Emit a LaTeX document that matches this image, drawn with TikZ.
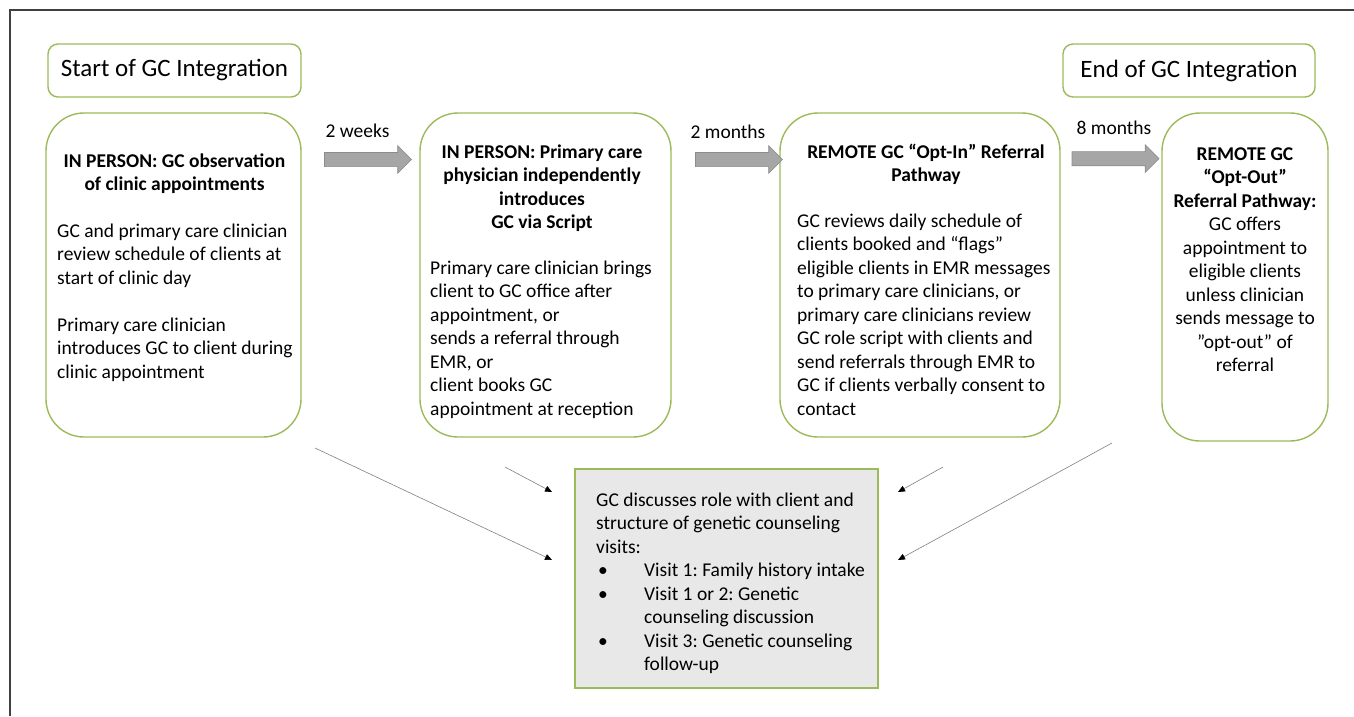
\documentclass[tikz,border=0pt]{standalone}
\usepackage{fontspec}
\setmainfont{Carlito}
\usetikzlibrary{shapes.arrows,arrows.meta,positioning}

\definecolor{cardgreen}{RGB}{155,187,89}
\definecolor{notegray}{RGB}{232,232,232}
\definecolor{shaftgray}{RGB}{166,166,166}
\definecolor{shaftedge}{RGB}{140,140,140}
\definecolor{framegray}{RGB}{64,64,64}
\newcommand\bodyfont{\fontsize{19.5}{23.5}\selectfont\frenchspacing}

\begin{document}
\begin{tikzpicture}[x=1pt,y=-1pt]

    \tikzset{
      tag/.style={
        draw=cardgreen,
        line width=1.4pt,
        rounded corners=10pt,
        minimum width=253pt,
        minimum height=53pt,
        inner sep=0pt,
        font=\fontsize{25}{28}\selectfont,
      },
      card/.style={
        draw=cardgreen,
        line width=1.4pt,
        rounded corners=38pt,
        inner sep=0pt,
      },
      cardhead/.style={
        inner sep=0pt,
        anchor=north,
        align=center,
        font=\bodyfont\bfseries,
      },
      cardtext/.style={
        inner sep=0pt,
        anchor=north west,
        align=left,
        font=\bodyfont,
      },
      shaft/.style={
        single arrow,
        draw=shaftedge,
        fill=shaftgray,
        line width=0.6pt,
        inner sep=6.75pt,
        minimum height=87pt,
        single arrow head extend=6.75pt,
        single arrow head indent=0pt,
      },
      gap/.style={font=\bodyfont, inner sep=0pt},
      feed/.style={
        draw=gray,
        line width=0.6pt,
        -{Triangle[length=7pt,width=6pt,color=black]},
      },
    }
    \useasboundingbox (0,0) rectangle (1354,716);

    % frame, cut at right and bottom
    \draw[framegray, line width=2pt] (10,716) -- (10,10) -- (1354,10);

    % phase tags
    \node[tag] (start) at (174.5,70.5) {Start of GC Integration};
    \node[tag, minimum width=252pt] (end) at (1189,70.5) {End of GC Integration};

    % the four phases
    \node[card, minimum width=255pt, minimum height=324pt] (obs) at (173.5,275) {};
    \node[card, minimum width=251pt, minimum height=324pt] (script) at (545.5,275) {};
    \node[card, minimum width=280pt, minimum height=324pt] (optin) at (920,275) {};
    \node[card, minimum width=166pt, minimum height=328pt] (optout) at (1245,277) {};
    \node[draw=cardgreen, line width=1.4pt, fill=notegray, minimum width=303pt,
          minimum height=219pt, inner sep=0pt] (visits) at (726.5,578.5) {};

    \node[cardhead] (obshead) at (174.5,153.5) {IN PERSON: GC observation\\ of clinic appointments};
    \node[cardtext] (obstext) at (57,223.5)
      {GC and primary care clinician\\ review schedule of clients at\\ start of clinic day\\[23.5pt]
       Primary care clinician\\ introduces GC to client during\\ clinic appointment};

    \node[cardhead] (scripthead) at (542,144.5)
      {IN PERSON: Primary care\\ physician independently\\ introduces\\ GC via Script};
    \node[cardtext] (scripttext) at (430,260.5)
      {Primary care clinician brings\\ client to GC office after\\ appointment, or\\ sends a referral through\\
       EMR, or\\ client books GC\\ appointment at reception};

    \node[cardhead] (optinhead) at (926,143.5) {REMOTE GC “Opt-In” Referral\\ Pathway};
    \node[cardtext] (optintext) at (797,213.5)
      {GC reviews daily schedule of\\ clients booked and “flags”\\ eligible clients in EMR messages\\
       to primary care clinicians, or\\ primary care clinicians review\\ GC role script with clients and\\
       send referrals through EMR to\\ GC if clients verbally consent to\\ contact};

    \node[cardtext, anchor=north, align=center] (optouttext) at (1245,147.5)
      {\textbf{REMOTE GC}\\ \textbf{“Opt-Out”}\\ \textbf{Referral Pathway:}\\ GC offers\\ appointment to\\
       eligible clients\\ unless clinician\\ sends message to\\ ”opt-out” of\\ referral};

    \node[cardtext] (visitstext) at (596,492.5)
      {GC discusses role with client and\\ structure of genetic counseling\\ visits:\\
       \hspace*{2pt}\makebox[46pt][l]{\textbullet}Visit 1: Family history intake\\
       \hspace*{2pt}\makebox[46pt][l]{\textbullet}Visit 1 or 2: Genetic\\
       \hspace*{48pt}counseling discussion\\
       \hspace*{2pt}\makebox[46pt][l]{\textbullet}Visit 3: Genetic counseling\\
       \hspace*{48pt}follow-up};

    % time between phases
    \node[shaft] (arrA) at (364.5,159.5) {};
    \node[shaft] (arrB) at (735.5,159.5) {};
    \node[shaft] (arrC) at (1112,158.7) {};
    \node[gap] (wk) at (357.5,131) {2 weeks};
    \node[gap] (mo) at (728,132) {2 months};
    \node[gap] (mo8) at (1114,128) {8 months};

    % every phase leads to the visits
    \coordinate (f1) at (315,448);
    \coordinate (f2) at (505,467);
    \coordinate (f3) at (943,467);
    \coordinate (f4) at (1112,443);
    \coordinate (t1) at (552,560);
    \coordinate (t2) at (552,492);
    \coordinate (t3) at (898,492);
    \coordinate (t4) at (898,560);
    \draw[feed] (f1) -- (t1);
    \draw[feed] (f2) -- (t2);
    \draw[feed] (f3) -- (t3);
    \draw[feed] (f4) -- (t4);

\end{tikzpicture}
\end{document}
